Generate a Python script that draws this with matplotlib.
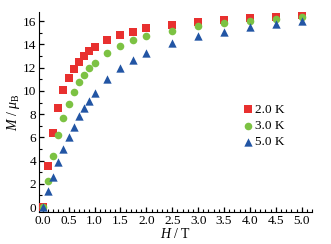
import matplotlib
matplotlib.use("Agg")
import matplotlib.pyplot as plt
from matplotlib.ticker import MultipleLocator

plt.rcParams['font.family'] = ['Liberation Serif', 'DejaVu Serif']
plt.rcParams['mathtext.fontset'] = 'custom'
plt.rcParams['mathtext.it'] = 'Liberation Serif:italic'
plt.rcParams['mathtext.rm'] = 'Liberation Serif'

# field values (T)
H = [0.0, 0.1, 0.2, 0.3, 0.4, 0.5, 0.6, 0.7, 0.8, 0.9, 1.0,
     1.25, 1.5, 1.75, 2.0, 2.5, 3.0, 3.5, 4.0, 4.5, 5.0]

# magnetisation (mu_B) at each temperature
M_2K = [0.0, 3.5, 6.4, 8.5, 10.05, 11.1, 11.9, 12.5, 13.05, 13.45, 13.8,
        14.4, 14.8, 15.1, 15.4, 15.7, 15.9, 16.15, 16.25, 16.4, 16.5]
M_3K = [0.0, 2.27, 4.37, 6.18, 7.7, 8.9, 9.94, 10.75, 11.38, 11.95, 12.44,
        13.3, 13.88, 14.37, 14.74, 15.2, 15.6, 15.84, 16.06, 16.2, 16.35]
M_5K = [0.0, 1.38, 2.6, 3.85, 4.97, 6.0, 6.9, 7.8, 8.5, 9.16, 9.8,
        11.0, 11.95, 12.67, 13.25, 14.1, 14.7, 15.1, 15.5, 15.78, 16.06]

labels = ["2.0 K", "3.0 K", "5.0 K"]

fig = plt.figure(figsize=(3.31, 2.44), dpi=100)
ax = fig.add_axes([0.118, 0.131, 0.825, 0.82])

ax.scatter(H, M_2K, marker='s', s=26, color='#e8302f', label=labels[0], zorder=3, linewidths=0)
ax.scatter(H, M_3K, marker='o', s=30, color='#7cc243', label=labels[1], zorder=3, linewidths=0)
ax.scatter(H, M_5K, marker='^', s=36, color='#2255a4', label=labels[2], zorder=3, linewidths=0)

ax.set_xlim(-0.07, 5.2)
ax.set_ylim(-0.43, 16.8)
ax.xaxis.set_major_locator(MultipleLocator(0.5))
ax.xaxis.set_minor_locator(MultipleLocator(0.1))
ax.yaxis.set_major_locator(MultipleLocator(2))
ax.yaxis.set_minor_locator(MultipleLocator(1))
ax.xaxis.set_major_formatter(plt.FormatStrFormatter('%.1f'))

for s in ['top', 'right']:
    ax.spines[s].set_visible(False)
ax.tick_params(which='both', direction='in', labelsize=9.5, pad=2)
ax.tick_params(which='major', length=3.5, width=0.9)
ax.tick_params(which='minor', length=2, width=0.8)

ax.set_xlabel(r'$H$ / T', fontsize=10, labelpad=0)
ax.set_ylabel(r'$M$ / $\mu_\mathrm{B}$', fontsize=10, labelpad=1)

ax.legend(loc='center left', bbox_to_anchor=(0.72, 0.43), frameon=False,
          fontsize=9.5, handletextpad=0.1, labelspacing=0.3,
          borderaxespad=0, handlelength=1.0)

fig.savefig("out.png", dpi=100)
